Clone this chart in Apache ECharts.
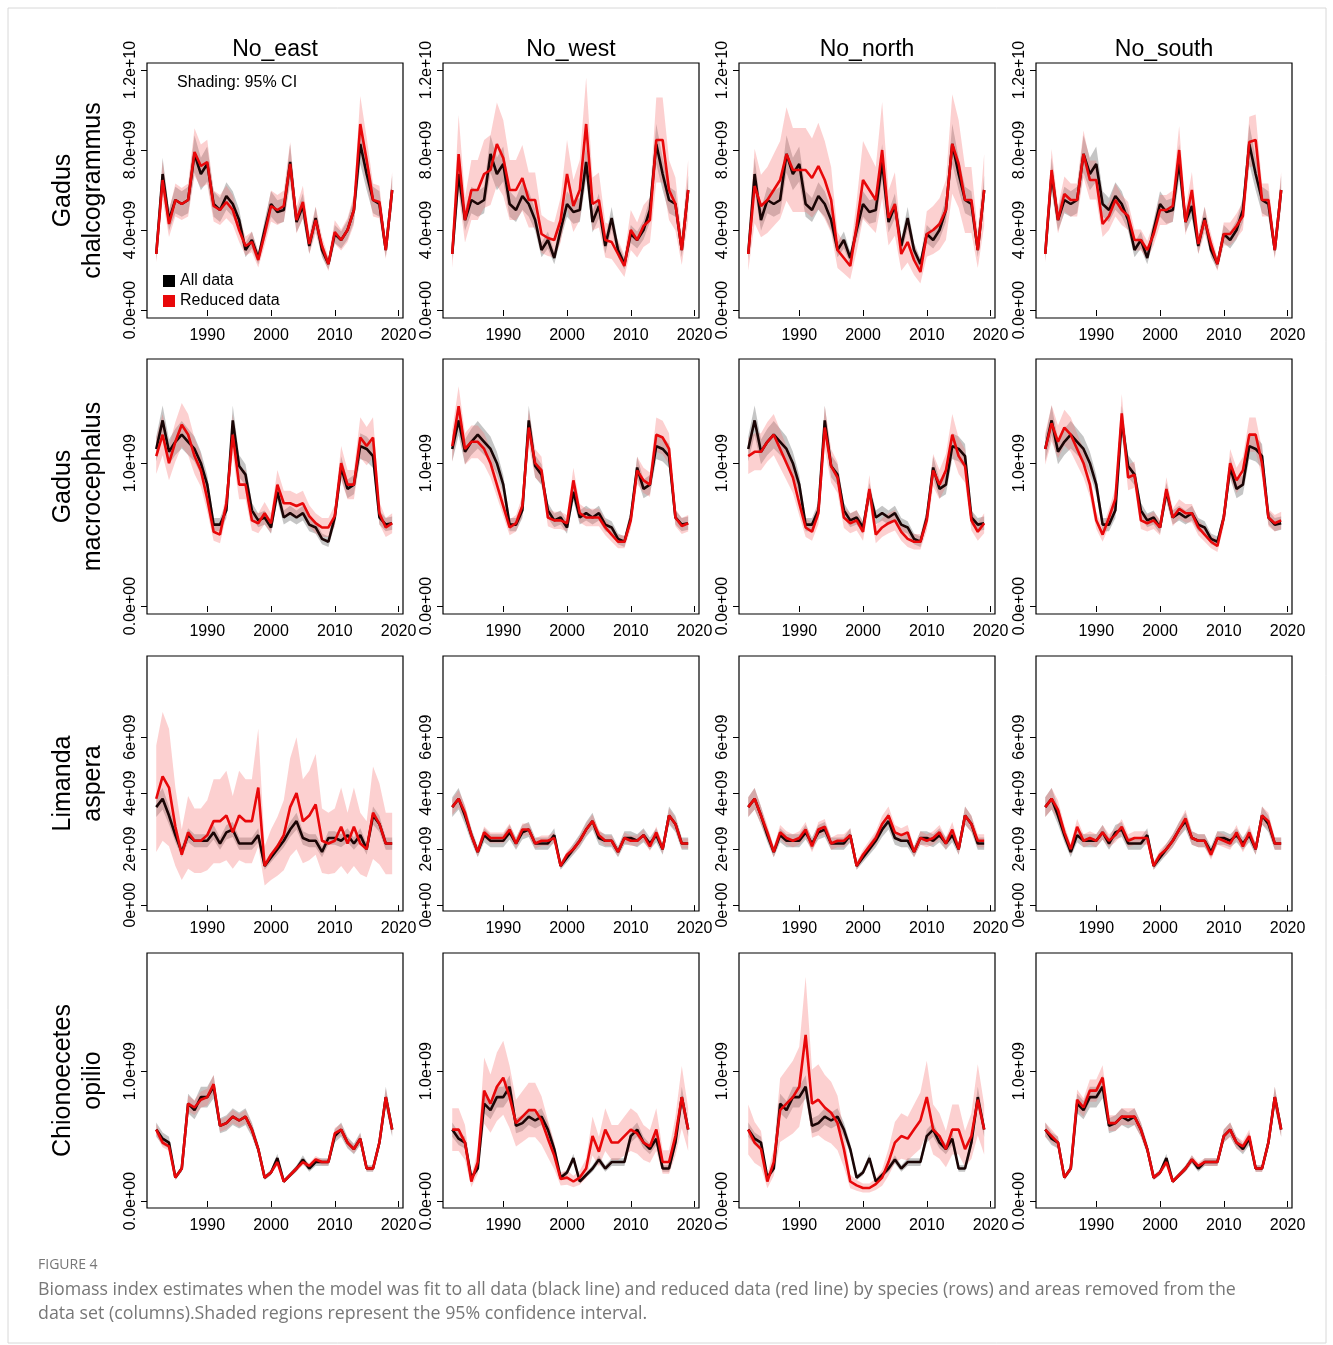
<!DOCTYPE html>
<html><head><meta charset="utf-8">
<script src="https://cdn.jsdelivr.net/npm/echarts@6/dist/echarts.min.js"></script>
<style>body{margin:0;background:#fff}#main{width:1333px;height:1345px}</style>
</head><body><div id="main"></div>
<script>
// 年份 1982-2019
var years = [];
for (var y = 1982; y <= 2019; y++) years.push(y);
var areas = ["No_east", "No_west", "No_north", "No_south"];
var species = ["Gadus\nchalcogrammus", "Gadus\nmacrocephalus", "Limanda\naspera", "Chionoecetes\nopilio"];

// 全部数据（黑线），单位 1e9
var allPollock = [2.8,6.8,4.5,5.5,5.3,5.5,7.8,6.8,7.3,5.3,5.0,5.7,5.3,4.5,3.0,3.5,2.6,4.0,5.3,4.9,5.0,7.4,4.4,5.2,3.2,4.6,3.0,2.3,3.8,3.5,4.0,5.0,8.3,6.8,5.5,5.3,3.0,6.0];
var allCod = [1.1,1.3,1.08,1.15,1.2,1.15,1.1,1.0,0.85,0.57,0.57,0.67,1.3,0.98,0.92,0.67,0.6,0.62,0.55,0.8,0.62,0.65,0.62,0.65,0.57,0.55,0.47,0.45,0.62,0.97,0.82,0.85,1.12,1.1,1.05,0.62,0.57,0.58];
var allSole = [3.5,3.8,3.2,2.5,1.9,2.5,2.3,2.3,2.3,2.6,2.2,2.6,2.7,2.2,2.2,2.2,2.5,1.4,1.7,2.0,2.3,2.7,3.0,2.4,2.3,2.3,1.9,2.4,2.4,2.3,2.5,2.2,2.5,2.0,3.2,2.9,2.2,2.2];
var allCrab = [0.55,0.48,0.45,0.18,0.25,0.75,0.7,0.8,0.8,0.88,0.58,0.6,0.65,0.62,0.65,0.55,0.4,0.18,0.22,0.33,0.15,0.2,0.25,0.32,0.25,0.3,0.3,0.3,0.5,0.55,0.45,0.4,0.48,0.25,0.25,0.45,0.8,0.55];

// 减少数据（红线）
var redPollockEast = [2.8,6.5,4.3,5.5,5.3,5.5,7.9,7.2,7.4,5.2,5.0,5.4,5.0,4.0,3.2,3.4,2.5,3.8,5.2,5.0,5.2,7.3,4.5,5.4,3.3,4.5,3.2,2.3,3.9,3.5,4.0,5.0,9.3,7.5,5.5,5.4,3.0,6.0];
var redPollockWest = [2.8,7.8,4.5,6.0,6.0,6.8,7.0,8.3,7.6,6.0,6.0,6.6,5.5,5.5,3.8,3.6,3.5,4.5,6.8,5.2,6.0,9.3,5.3,5.5,3.5,3.4,2.8,2.2,4.0,3.5,4.2,4.5,8.5,8.5,6.0,5.3,3.0,6.0];
var redPollockNorth = [2.8,6.2,5.2,5.5,6.0,6.5,7.8,7.0,7.0,7.0,6.6,7.2,6.5,5.5,3.0,2.6,2.2,4.2,6.5,6.0,5.5,8.0,4.6,5.3,2.8,3.4,2.5,1.9,3.8,4.0,4.3,5.0,8.3,7.3,5.5,5.5,3.0,6.0];
var redPollockSouth = [2.8,7.0,4.5,5.8,5.5,5.5,7.8,6.5,6.5,4.3,4.7,5.5,5.0,4.7,3.5,3.5,3.0,3.8,5.0,5.0,5.2,8.0,4.4,6.0,3.3,4.5,3.3,2.3,3.8,3.8,4.2,4.7,8.4,8.5,5.5,5.5,3.0,6.0];
var redCodEast = [1.05,1.2,1.0,1.15,1.27,1.2,1.05,0.95,0.75,0.52,0.5,0.72,1.2,0.85,0.85,0.6,0.58,0.65,0.58,0.85,0.72,0.72,0.7,0.72,0.63,0.58,0.55,0.55,0.63,1.0,0.85,0.85,1.18,1.12,1.18,0.65,0.55,0.58];
var redCodWest = [1.12,1.4,1.1,1.15,1.15,1.1,1.0,0.85,0.7,0.55,0.58,0.7,1.25,1.0,0.95,0.62,0.6,0.6,0.58,0.88,0.65,0.62,0.62,0.62,0.55,0.5,0.45,0.45,0.6,0.95,0.88,0.85,1.2,1.18,1.1,0.62,0.56,0.58];
var redCodNorth = [1.05,1.08,1.08,1.15,1.2,1.1,1.0,0.9,0.72,0.55,0.52,0.65,1.25,0.98,0.9,0.62,0.58,0.6,0.52,0.82,0.5,0.55,0.58,0.6,0.52,0.47,0.45,0.45,0.6,0.95,0.85,0.95,1.2,1.05,0.98,0.6,0.52,0.58];
var redCodSouth = [1.1,1.28,1.15,1.25,1.2,1.1,1.0,0.85,0.6,0.5,0.62,0.75,1.35,0.9,0.92,0.6,0.58,0.6,0.55,0.82,0.62,0.68,0.65,0.65,0.55,0.5,0.45,0.42,0.62,1.0,0.88,0.95,1.2,1.2,1.0,0.62,0.58,0.6];
var redSoleEast = [3.8,4.6,4.2,2.8,1.8,2.6,2.3,2.3,2.5,3.0,3.0,3.2,2.6,3.2,3.0,3.0,4.2,1.4,1.8,2.1,2.5,3.5,4.0,3.0,3.2,3.6,2.3,2.2,2.3,2.8,2.2,2.8,2.2,2.0,3.3,2.9,2.2,2.2];
var redSoleWest = [3.5,3.8,3.3,2.5,1.9,2.6,2.4,2.4,2.4,2.7,2.2,2.7,2.7,2.2,2.3,2.3,2.4,1.4,1.8,2.0,2.3,2.7,3.0,2.5,2.3,2.3,1.9,2.4,2.3,2.3,2.5,2.1,2.6,2.0,3.2,2.9,2.2,2.2];
var redSoleNorth = [3.5,3.8,3.2,2.6,1.9,2.6,2.4,2.3,2.4,2.7,2.1,2.7,2.8,2.2,2.3,2.3,2.5,1.4,1.8,2.1,2.4,2.9,3.2,2.6,2.5,2.6,1.9,2.4,2.3,2.4,2.6,2.2,2.7,2.0,3.2,2.9,2.3,2.3];
var redSoleSouth = [3.5,3.8,3.4,2.6,2.0,2.8,2.3,2.4,2.3,2.6,2.3,2.5,2.8,2.3,2.4,2.4,2.4,1.4,1.8,2.0,2.3,2.7,3.1,2.4,2.3,2.3,1.8,2.4,2.3,2.2,2.6,2.1,2.6,2.0,3.2,3.0,2.2,2.2];
var redCrabEast = [0.55,0.45,0.42,0.18,0.25,0.75,0.72,0.78,0.8,0.9,0.58,0.6,0.65,0.62,0.65,0.55,0.4,0.18,0.22,0.3,0.15,0.2,0.25,0.3,0.27,0.32,0.3,0.3,0.52,0.55,0.45,0.4,0.48,0.25,0.25,0.45,0.8,0.55];
var redCrabWest = [0.55,0.55,0.45,0.15,0.3,0.85,0.75,0.88,0.95,0.8,0.6,0.65,0.7,0.7,0.62,0.48,0.35,0.17,0.18,0.15,0.18,0.25,0.5,0.38,0.55,0.45,0.45,0.5,0.55,0.52,0.45,0.42,0.55,0.3,0.3,0.5,0.8,0.55];
var redCrabNorth = [0.55,0.45,0.4,0.15,0.3,0.7,0.75,0.8,0.88,1.28,0.75,0.78,0.72,0.68,0.6,0.4,0.15,0.12,0.1,0.1,0.13,0.18,0.3,0.45,0.5,0.48,0.55,0.62,0.8,0.55,0.5,0.4,0.55,0.55,0.4,0.5,0.78,0.55];
var redCrabSouth = [0.55,0.5,0.45,0.18,0.25,0.78,0.72,0.85,0.85,0.95,0.6,0.6,0.65,0.65,0.65,0.55,0.4,0.18,0.22,0.3,0.15,0.2,0.25,0.32,0.27,0.3,0.3,0.3,0.5,0.55,0.45,0.42,0.5,0.25,0.25,0.45,0.8,0.55];

var allData = [allPollock, allCod, allSole, allCrab];
var redData = [
  [redPollockEast, redPollockWest, redPollockNorth, redPollockSouth],
  [redCodEast, redCodWest, redCodNorth, redCodSouth],
  [redSoleEast, redSoleWest, redSoleNorth, redSoleSouth],
  [redCrabEast, redCrabWest, redCrabNorth, redCrabSouth]
];
// 95% CI 相对半宽
var blackCI = [0.12, 0.08, 0.1, 0.1];
var redCI = [[0.15,0.25,0.3,0.15],[0.12,0.1,0.12,0.1],[0.5,0.08,0.1,0.1],[0.08,0.3,0.35,0.1]];

// 坐标轴
var yMin = [-0.4e9, -0.056e9, -0.21e9, -0.054e9];
var yMax = [12.35e9, 1.73e9, 8.9e9, 1.91e9];
var yTicks = [[0,4e9,8e9,12e9],[0,1e9],[0,2e9,4e9,6e9],[0,1e9]];
var yTickLabels = [["0.0e+00","4.0e+09","8.0e+09","1.2e+10"],["0.0e+00","1.0e+09"],["0e+00","2e+09","4e+09","6e+09"],["0.0e+00","1.0e+09"]];
var xTicks = [1990, 2000, 2010, 2020];

var colLeft = [147, 443, 739, 1036], rowTop = [63, 359, 656, 953];
var W = 256, H = 255;
var FONT = "Liberation Sans";

var myChart = echarts.init(document.getElementById('main'));
var grids = [], xAxes = [], yAxes = [], series = [];

function pts(arr, f) {
  return years.map(function (yr, i) { return [yr, f(arr[i], i)]; });
}
// 置信区间带：custom 多边形
function band(k, arr, rel, color) {
  var data = years.map(function (yr, i) { return [yr, arr[i] * (1 - rel) * 1e9, arr[i] * (1 + rel) * 1e9]; });
  series.push({type:'custom', xAxisIndex:k, yAxisIndex:k, silent:true, data:data,
    renderItem:function (params, api) {
      if (params.dataIndex !== 0) return null;
      var up = [], lo = [];
      for (var i = 0; i < data.length; i++) {
        up.push(api.coord([data[i][0], data[i][2]]));
        lo.unshift(api.coord([data[i][0], data[i][1]]));
      }
      return {type:'polygon', shape:{points:up.concat(lo)}, style:{fill:color}};
    }});
}

for (var r = 0; r < 4; r++) {
  for (var c = 0; c < 4; c++) {
    var k = r * 4 + c;
    grids.push({left:colLeft[c], top:rowTop[r], width:W, height:H, show:true, borderColor:'#000', borderWidth:1.2, backgroundColor:'transparent'});
    xAxes.push({type:'value', gridIndex:k, min:1980.55, max:2020.7,
      axisLine:{show:false}, splitLine:{show:false},
      axisTick:{customValues:xTicks, length:6, lineStyle:{color:'#000'}},
      axisLabel:{customValues:xTicks, color:'#000', fontSize:16, fontFamily:FONT, margin:10,
        formatter:function (v) { return String(v); }}});
    yAxes.push({type:'value', gridIndex:k, min:yMin[r], max:yMax[r],
      axisLine:{show:false}, splitLine:{show:false},
      axisTick:{show:true, customValues:yTicks[r], length:6, lineStyle:{color:'#000'}},
      axisLabel:{customValues:yTicks[r], rotate:90, color:'#000', fontSize:16, fontFamily:FONT, margin:8,
        formatter:(function (rr) { return function (v) { var i = yTicks[rr].indexOf(v); return i >= 0 ? yTickLabels[rr][i] : ''; }; })(r)}});
    band(k, allData[r], blackCI[r], 'rgba(90,90,90,0.35)');
    band(k, redData[r][c], redCI[r][c], 'rgba(245,110,110,0.32)');
    series.push({name:'All data', type:'line', xAxisIndex:k, yAxisIndex:k, symbol:'none',
      lineStyle:{color:'#1a0505', width:2.6}, itemStyle:{color:'#000'}, data: pts(allData[r], function (v) { return v * 1e9; })});
    series.push({name:'Reduced data', type:'line', xAxisIndex:k, yAxisIndex:k, symbol:'none',
      lineStyle:{color:'#e8080a', width:2.6}, itemStyle:{color:'#e8080a'}, data: pts(redData[r][c], function (v) { return v * 1e9; })});
  }
}

var graphics = [
  {type:'rect', shape:{x:8, y:8, width:1318, height:1335}, style:{fill:'none', stroke:'#d8d8d8', lineWidth:1}},
  {type:'text', left:177, top:75, style:{text:'Shading: 95% CI', font:'16px "Liberation Sans"', fill:'#000'}},
  {type:'text', left:38, top:1258, style:{text:'FIGURE 4', font:'14px "Open Sans"', fill:'#777'}},
  {type:'text', left:38, top:1278, style:{text:'Biomass index estimates when the model was fit to all data (black line) and reduced data (red line) by species (rows) and areas removed from the\ndata set (columns).Shaded regions represent the 95% confidence interval.', font:'17.8px "Open Sans"', lineHeight:24, fill:'#777'}}
];
areas.forEach(function (a, c) {
  graphics.push({type:'text', x:colLeft[c] + W / 2, y:50, style:{text:a, font:'23px "Liberation Sans"', fill:'#000', align:'center', verticalAlign:'middle'}});
});
species.forEach(function (s, r) {
  graphics.push({type:'text', x:78, y:rowTop[r] + H / 2, rotation:Math.PI / 2,
    style:{text:s, font:'25px "Liberation Sans"', fill:'#000', align:'center', verticalAlign:'middle', lineHeight:30}});
});

var option = {
  animation:false,
  grid:grids, xAxis:xAxes, yAxis:yAxes, series:series,
  legend:{left:158, top:268, orient:'vertical', itemGap:4, itemWidth:12, itemHeight:12, icon:'rect',
    data:['All data','Reduced data'], textStyle:{fontSize:16, fontFamily:FONT, color:'#000'}},
  graphic:graphics
};
myChart.setOption(option);
</script></body></html>
